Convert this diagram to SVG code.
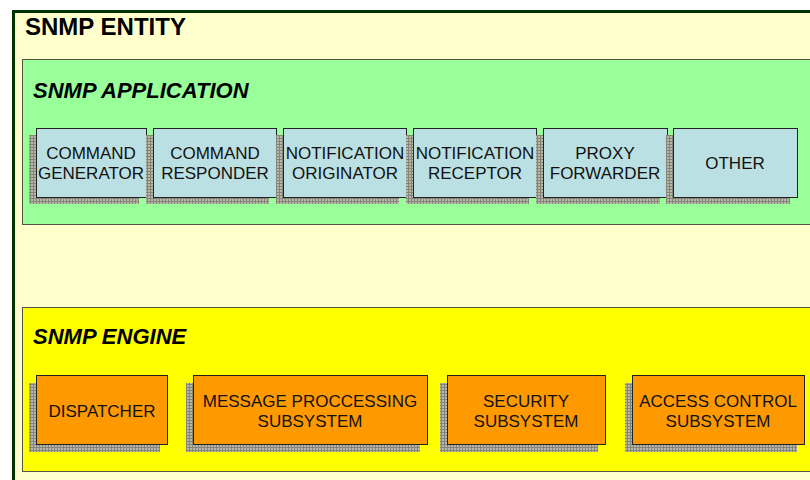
<svg xmlns="http://www.w3.org/2000/svg" width="810" height="480" viewBox="0 0 810 480">
  <defs>
    <pattern id="hatch" width="3" height="3" patternUnits="userSpaceOnUse">
      <rect width="3" height="3" fill="#b8b8a8"/>
      <path d="M0 0.5H3M0.5 0V3" stroke="#84847a" stroke-width="1"/>
    </pattern>
    <style>
      .title { font-family: "Liberation Sans", Arial, sans-serif; font-weight: bold; fill: #000; }
      .sub { font-family: "Liberation Sans", Arial, sans-serif; font-weight: bold; font-style: italic; font-size: 22px; fill: #000; }
      .lbl { font-family: "Liberation Sans", Arial, sans-serif; font-size: 17px; fill: #111; text-anchor: middle; }
      .shadow { fill: url(#hatch); }
      .app { fill: #bbe0e3; stroke: #222; stroke-width: 1; }
      .eng { fill: #ff9900; stroke: #222; stroke-width: 1; }
    </style>
  </defs>
  <rect width="810" height="480" fill="#ffffff"/>

  <g id="snmp-entity">
    <rect x="13.5" y="11.5" width="900" height="500" fill="#ffffcc" stroke="#003300" stroke-width="3"/>
    <text class="title" x="25" y="35" font-size="24">SNMP ENTITY</text>
  </g>

  <g id="snmp-application">
    <rect x="22.5" y="59.5" width="900" height="165" fill="#99ff99" stroke="#555544" stroke-width="1"/>
    <text class="sub" x="33" y="98">SNMP APPLICATION</text>
  </g>

  <g id="snmp-engine">
    <rect x="22.5" y="307.5" width="900" height="164" fill="#ffff00" stroke="#555544" stroke-width="1"/>
    <text class="sub" x="33" y="344">SNMP ENGINE</text>
  </g>

  <g id="command-generator">
    <rect class="shadow" x="29" y="135" width="110" height="69"/>
    <rect class="app" x="36.5" y="128.5" width="110" height="69"/>
    <text class="lbl" x="91" y="159">COMMAND</text>
    <text class="lbl" x="91" y="179">GENERATOR</text>
  </g>
  <g id="command-responder">
    <rect class="shadow" x="146" y="135" width="123" height="69"/>
    <rect class="app" x="153.5" y="128.5" width="123" height="69"/>
    <text class="lbl" x="215" y="159">COMMAND</text>
    <text class="lbl" x="215" y="179">RESPONDER</text>
  </g>
  <g id="notification-originator">
    <rect class="shadow" x="276" y="135" width="123" height="69"/>
    <rect class="app" x="283.5" y="128.5" width="123" height="69"/>
    <text class="lbl" x="345" y="159">NOTIFICATION</text>
    <text class="lbl" x="345" y="179">ORIGINATOR</text>
  </g>
  <g id="notification-receptor">
    <rect class="shadow" x="406" y="135" width="123" height="69"/>
    <rect class="app" x="413.5" y="128.5" width="123" height="69"/>
    <text class="lbl" x="475" y="159">NOTIFICATION</text>
    <text class="lbl" x="475" y="179">RECEPTOR</text>
  </g>
  <g id="proxy-forwarder">
    <rect class="shadow" x="536" y="135" width="124" height="69"/>
    <rect class="app" x="543.5" y="128.5" width="124" height="69"/>
    <text class="lbl" x="605" y="159">PROXY</text>
    <text class="lbl" x="605" y="179">FORWARDER</text>
  </g>
  <g id="other">
    <rect class="shadow" x="666" y="135" width="124" height="69"/>
    <rect class="app" x="673.5" y="128.5" width="124" height="69"/>
    <text class="lbl" x="735" y="169">OTHER</text>
  </g>

  <g id="dispatcher">
    <rect class="shadow" x="29" y="383" width="131" height="69"/>
    <rect class="eng" x="36.5" y="375.5" width="131" height="69"/>
    <text class="lbl" x="102" y="417">DISPATCHER</text>
  </g>
  <g id="message-processing">
    <rect class="shadow" x="186" y="383" width="234" height="69"/>
    <rect class="eng" x="193.5" y="375.5" width="234" height="69"/>
    <text class="lbl" x="310" y="407">MESSAGE PROCCESSING</text>
    <text class="lbl" x="310" y="427">SUBSYSTEM</text>
  </g>
  <g id="security-subsystem">
    <rect class="shadow" x="440" y="383" width="158" height="69"/>
    <rect class="eng" x="447.5" y="375.5" width="158" height="69"/>
    <text class="lbl" x="526" y="407">SECURITY</text>
    <text class="lbl" x="526" y="427">SUBSYSTEM</text>
  </g>
  <g id="access-control-subsystem">
    <rect class="shadow" x="625" y="383" width="172" height="69"/>
    <rect class="eng" x="632.5" y="375.5" width="172" height="69"/>
    <text class="lbl" x="718" y="407">ACCESS CONTROL</text>
    <text class="lbl" x="718" y="427">SUBSYSTEM</text>
  </g>

  <g id="connectors"></g>
</svg>
